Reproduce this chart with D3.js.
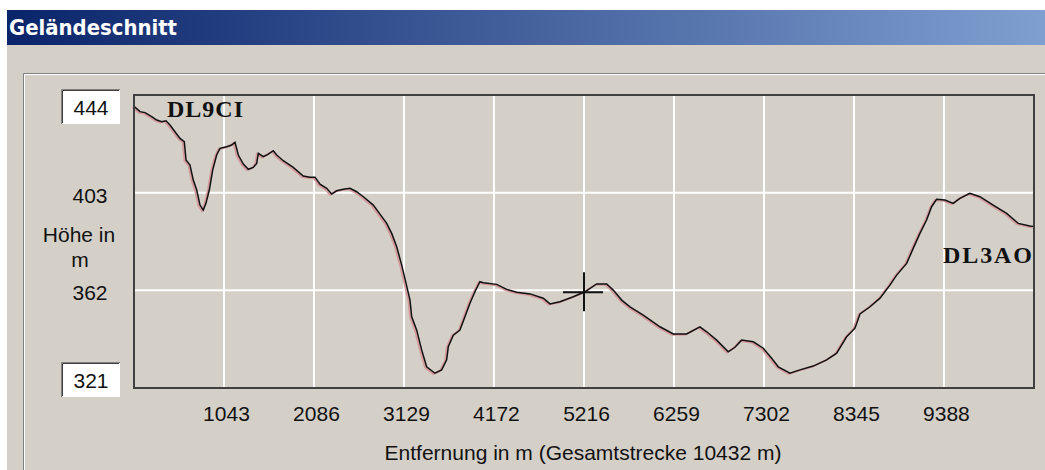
<!DOCTYPE html>
<meta charset="utf-8">
<title>Geländeschnitt</title>
<style>
body { margin: 0; background: #fff; }
text { font-family: "Liberation Sans", Arial, sans-serif; }
</style>
<body>
<script src="https://d3js.org/d3.v7.min.js"></script>
<script>

// profile: distance (m) and height (m)
var distM = [0, 70, 128, 205, 263, 321, 371, 417, 475, 533, 583, 603, 649, 687, 727, 765, 803, 834, 873, 912,
  958, 997, 1074, 1132, 1171, 1209, 1267, 1325, 1383, 1422, 1441, 1499, 1557, 1615, 1654, 1730, 1846, 1962, 2040, 2098,
  2156, 2233, 2291, 2349, 2426, 2503, 2581, 2658, 2774, 2851, 2929, 2987, 3045, 3103, 3153, 3199, 3219, 3277, 3335, 3392,
  3488, 3566, 3624, 3643, 3701, 3778, 3836, 3894, 3952, 4010, 4049, 4204, 4320, 4436, 4590, 4744, 4822, 4938, 5092, 5227,
  5363, 5479, 5555, 5653, 5749, 5903, 6096, 6251, 6406, 6560, 6638, 6754, 6888, 6966, 7043, 7178, 7294, 7391, 7468, 7603,
  7719, 7873, 8029, 8145, 8260, 8357, 8415, 8531, 8647, 8762, 8840, 8956, 9032, 9110, 9187, 9245, 9303, 9399, 9496, 9573,
  9689, 9805, 9959, 10115, 10249, 10385, 10432];
var heightM = [439.2, 437.0, 436.6, 434.9, 433.5, 432.8, 433.2, 431.4, 428.6, 425.8, 424.4, 416.7, 414.6, 408.3, 404.1, 397.8, 395.7, 398.5, 404.1, 412.5,
  418.8, 421.6, 422.3, 423.0, 424.1, 418.8, 415.0, 412.8, 413.6, 415.3, 419.5, 418.1, 419.2, 420.6, 418.8, 416.4, 413.6, 410.0, 409.5, 409.5,
  406.6, 404.8, 402.4, 403.8, 404.4, 404.8, 403.4, 401.3, 397.8, 394.0, 390.1, 385.9, 380.3, 372.6, 365.0, 357.9, 350.9, 345.3, 336.9, 329.9,
  327.2, 328.6, 332.8, 338.3, 343.2, 345.3, 350.9, 356.6, 361.4, 365.6, 365.2, 364.5, 362.4, 361.2, 360.5, 358.7, 356.3, 357.2, 359.3, 361.4,
  364.7, 364.7, 362.1, 357.9, 355.1, 351.6, 346.7, 343.7, 343.7, 346.7, 344.6, 341.1, 336.2, 338.1, 341.1, 340.4, 337.7, 333.5, 329.9, 327.2,
  328.6, 330.2, 332.8, 335.6, 342.5, 346.1, 352.1, 355.1, 358.7, 364.2, 368.4, 373.3, 379.6, 385.9, 391.5, 397.1, 400.2, 399.9, 398.5, 400.6,
  402.7, 401.3, 397.8, 394.3, 390.1, 389.0, 388.8];

var xTicks = [1043, 2086, 3129, 4172, 5216, 6259, 7302, 8345, 9388];
var yTicks = [444, 403, 362, 321];
var totalM = 10432;
var cursorM = 5216;
var startName = "DL9CI", endName = "DL3AO";

var W = 1045, H = 470;
var plot = {left: 134, top: 95, right: 1034, bottom: 388};

var svg = d3.select("body").append("svg")
    .attr("width", W)
    .attr("height", H);

var defs = svg.append("defs");
var grad = defs.append("linearGradient").attr("id", "titlebar");
grad.append("stop").attr("offset", "0%").attr("stop-color", "#0a246a");
grad.append("stop").attr("offset", "100%").attr("stop-color", "#7f9fd0");

// window: title bar + grey dialog
svg.append("rect").attr("x", 7).attr("y", 10).attr("width", W - 7).attr("height", 35)
    .attr("fill", "url(#titlebar)");
svg.append("text").attr("x", 9).attr("y", 35)
    .attr("textLength", 168).attr("lengthAdjust", "spacingAndGlyphs")
    .style("font-family", "'DejaVu Sans', sans-serif")
    .style("font-weight", "bold").style("font-size", "21px")
    .attr("fill", "#fff")
    .text("Geländeschnitt");
svg.append("rect").attr("x", 7).attr("y", 45).attr("width", W - 7).attr("height", H - 45)
    .attr("fill", "#d4d0c8");

// etched group frame
svg.append("path").attr("d", "M23.5," + H + "V73.5H" + W)
    .attr("fill", "none").attr("stroke", "#808080");
svg.append("path").attr("d", "M24.5," + H + "V74.5H" + W)
    .attr("fill", "none").attr("stroke", "#fff");

var x = d3.scaleLinear().domain([0, totalM]).range([plot.left, plot.right]);
var y = d3.scaleLinear().domain([321, 444]).range([plot.bottom, plot.top]);

// grid
var g = svg.append("g");
g.selectAll("line.vg").data(xTicks).join("line")
    .attr("class", "vg")
    .attr("x1", d => x(d)).attr("x2", d => x(d))
    .attr("y1", plot.top).attr("y2", plot.bottom)
    .attr("stroke", "#fff").attr("stroke-width", 2);
g.selectAll("line.hg").data(yTicks.slice(1, 3)).join("line")
    .attr("class", "hg")
    .attr("x1", plot.left).attr("x2", plot.right)
    .attr("y1", d => y(d)).attr("y2", d => y(d))
    .attr("stroke", "#fff").attr("stroke-width", 2);

// profile
var pts = distM.map((d, i) => [d, heightM[i]]);
var line = d3.line().x(d => x(d[0])).y(d => y(d[1]));
svg.append("path").datum(pts)
    .attr("d", line)
    .attr("transform", "translate(-1.5,0.8)")
    .attr("fill", "none").attr("stroke", "#d59a9c").attr("stroke-width", 2);
svg.append("path").datum(pts)
    .attr("d", line)
    .attr("fill", "none").attr("stroke", "#111").attr("stroke-width", 1.5);

// cursor cross
var bis = d3.bisector(d => d).left;
var k = bis(distM, cursorM);
var t = (cursorM - distM[k - 1]) / (distM[k] - distM[k - 1]);
var cursorH = heightM[k - 1] + t * (heightM[k] - heightM[k - 1]);
var cx = x(cursorM), cy = y(cursorH);
svg.append("path")
    .attr("d", "M" + (cx - 21) + "," + cy + "H" + (cx + 19) + "M" + cx + "," + (cy - 20) + "V" + (cy + 19))
    .attr("stroke", "#111").attr("stroke-width", 2);

// frame
svg.append("path")
    .attr("d", "M" + plot.left + "," + plot.bottom + "V" + plot.top + "H" + plot.right + "V" + plot.bottom + "Z")
    .attr("fill", "none").attr("stroke", "#404040").attr("stroke-width", 2);

// station names
svg.append("text").attr("x", 167).attr("y", 117)
    .attr("textLength", 76)
    .style("font-family", "'Liberation Serif', serif")
    .style("font-weight", "bold").style("font-size", "24px")
    .attr("fill", "#111").text(startName);
svg.append("text").attr("x", 943).attr("y", 263)
    .attr("textLength", 89)
    .style("font-family", "'Liberation Serif', serif")
    .style("font-weight", "bold").style("font-size", "24px")
    .attr("fill", "#111").text(endName);

// x axis labels
var xAxis = d3.axisBottom(x).tickValues(xTicks).tickSize(0).tickPadding(0).tickFormat(d3.format("d"));
var xa = svg.append("g").attr("transform", "translate(0,405)").call(xAxis);
xa.select(".domain").remove();
xa.selectAll("text").attr("dy", "0.76em").attr("dx", 2)
    .style("font-size", "21px").style("font-family", "'Liberation Sans', Arial, sans-serif")
    .attr("fill", "#111");

svg.append("text").attr("x", 583).attr("y", 460).attr("text-anchor", "middle")
    .style("font-size", "21px").attr("fill", "#111")
    .text("Entfernung in m (Gesamtstrecke " + totalM + " m)");

// y labels
function box(bx, by, v) {
  svg.append("rect").attr("x", bx).attr("y", by).attr("width", 59).attr("height", 35).attr("fill", "#fff");
  svg.append("path").attr("d", "M" + (bx + 0.5) + "," + (by + 35) + "V" + (by + 0.5) + "H" + (bx + 59))
      .attr("fill", "none").attr("stroke", "#808080");
  svg.append("path").attr("d", "M" + (bx + 1.5) + "," + (by + 34) + "V" + (by + 1.5) + "H" + (bx + 58))
      .attr("fill", "none").attr("stroke", "#404040");
  svg.append("text").attr("x", bx + 30).attr("y", by + 26).attr("text-anchor", "middle")
      .style("font-size", "21px").attr("fill", "#111").text(v);
}
box(61, 89, yTicks[0]);
box(61, 362, yTicks[3]);

svg.selectAll("text.yl").data(yTicks.slice(1, 3)).join("text")
    .attr("class", "yl")
    .attr("x", 90).attr("y", d => y(d) + 10)
    .attr("text-anchor", "middle")
    .style("font-size", "21px").attr("fill", "#111")
    .text(d => d);

svg.append("text").attr("x", 79).attr("y", 242).attr("text-anchor", "middle")
    .style("font-size", "21px").attr("fill", "#111").text("Höhe in");
svg.append("text").attr("x", 80).attr("y", 267).attr("text-anchor", "middle")
    .style("font-size", "21px").attr("fill", "#111").text("m");

</script>
